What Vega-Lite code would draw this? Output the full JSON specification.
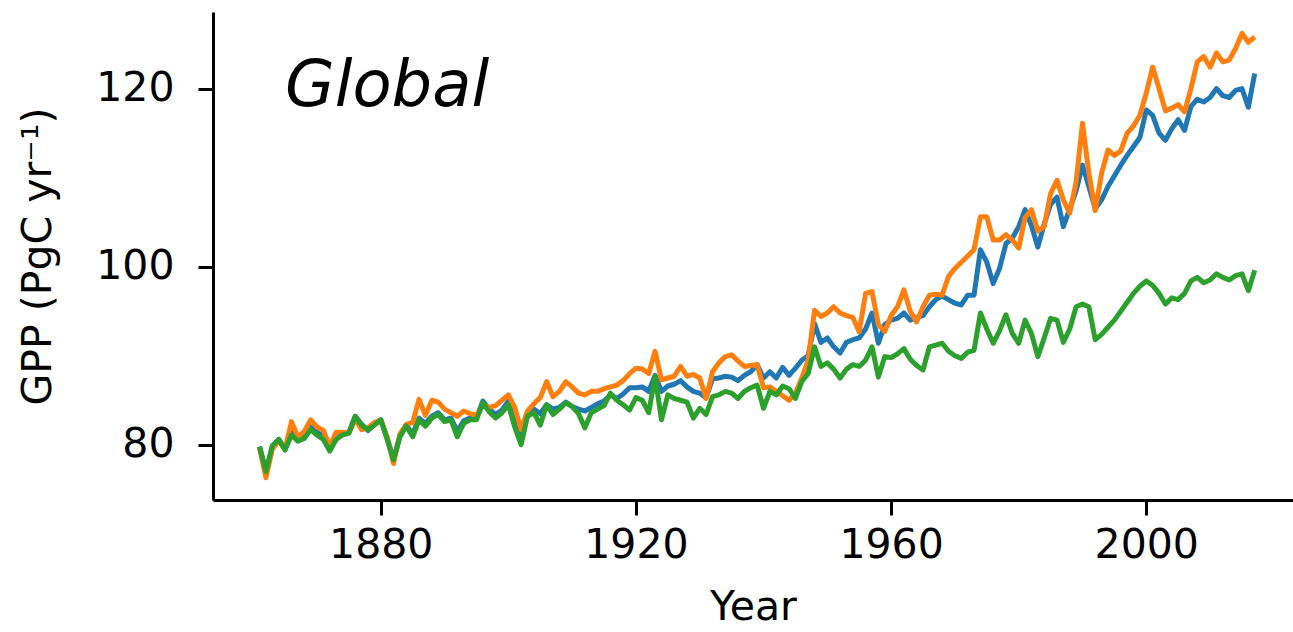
{
  "$schema": "https://vega.github.io/schema/vega-lite/v6.json",
  "width": 1080,
  "height": 488,
  "autosize": {"type": "none"},
  "padding": {"left": 213, "top": 12, "right": 0, "bottom": 132},
  "config": {
    "view": {"stroke": null},
    "font": "DejaVu Sans",
    "axis": {
      "grid": false,
      "domainColor": "#000000",
      "domainWidth": 3,
      "tickColor": "#000000",
      "tickWidth": 3,
      "tickSize": 15,
      "labelColor": "#000000",
      "titleColor": "#000000",
      "labelFont": "DejaVu Sans",
      "titleFont": "DejaVu Sans",
      "labelFontSize": 41,
      "titleFontSize": 41,
      "titleFontWeight": "normal"
    }
  },
  "layer": [
    {
      "data": {
        "values": [
          {"year":1861,"a":79.8,"b":79.6,"c":79.8},
          {"year":1862,"a":77.0,"b":76.3,"c":77.0},
          {"year":1863,"a":79.8,"b":79.5,"c":79.9},
          {"year":1864,"a":80.6,"b":80.5,"c":80.6},
          {"year":1865,"a":79.6,"b":79.5,"c":79.4},
          {"year":1866,"a":81.5,"b":82.6,"c":81.1},
          {"year":1867,"a":80.6,"b":80.9,"c":80.4},
          {"year":1868,"a":81.0,"b":81.5,"c":80.7},
          {"year":1869,"a":82.0,"b":82.8,"c":81.7},
          {"year":1870,"a":81.4,"b":82.0,"c":81.1},
          {"year":1871,"a":81.0,"b":81.6,"c":80.6},
          {"year":1872,"a":79.5,"b":79.8,"c":79.3},
          {"year":1873,"a":80.8,"b":81.4,"c":80.6},
          {"year":1874,"a":81.2,"b":81.4,"c":81.1},
          {"year":1875,"a":81.4,"b":81.3,"c":81.3},
          {"year":1876,"a":83.2,"b":82.9,"c":83.2},
          {"year":1877,"a":82.3,"b":81.7,"c":82.2},
          {"year":1878,"a":81.6,"b":81.9,"c":81.7},
          {"year":1879,"a":82.3,"b":82.5,"c":82.2},
          {"year":1880,"a":82.8,"b":82.8,"c":82.8},
          {"year":1881,"a":80.8,"b":80.8,"c":80.6},
          {"year":1882,"a":78.3,"b":77.9,"c":78.3},
          {"year":1883,"a":81.0,"b":81.2,"c":80.9},
          {"year":1884,"a":82.2,"b":82.3,"c":82.1},
          {"year":1885,"a":81.2,"b":82.5,"c":80.9},
          {"year":1886,"a":83.0,"b":85.1,"c":82.8},
          {"year":1887,"a":82.4,"b":83.3,"c":82.1},
          {"year":1888,"a":83.2,"b":85.0,"c":83.0},
          {"year":1889,"a":83.6,"b":84.8,"c":83.4},
          {"year":1890,"a":82.8,"b":84.0,"c":82.6},
          {"year":1891,"a":83.0,"b":83.6,"c":82.8},
          {"year":1892,"a":81.5,"b":83.2,"c":80.9},
          {"year":1893,"a":82.7,"b":83.8,"c":82.4},
          {"year":1894,"a":83.0,"b":83.5,"c":82.8},
          {"year":1895,"a":83.0,"b":83.3,"c":82.8},
          {"year":1896,"a":84.9,"b":84.5,"c":84.7},
          {"year":1897,"a":84.0,"b":84.2,"c":83.7},
          {"year":1898,"a":83.4,"b":84.4,"c":83.0},
          {"year":1899,"a":83.9,"b":85.0,"c":83.6},
          {"year":1900,"a":84.9,"b":85.6,"c":84.5},
          {"year":1901,"a":83.0,"b":84.2,"c":82.0},
          {"year":1902,"a":81.0,"b":81.7,"c":80.0},
          {"year":1903,"a":83.3,"b":83.8,"c":83.2},
          {"year":1904,"a":84.0,"b":84.6,"c":83.6},
          {"year":1905,"a":83.5,"b":85.3,"c":82.2},
          {"year":1906,"a":84.5,"b":87.1,"c":84.5},
          {"year":1907,"a":84.0,"b":85.4,"c":83.4},
          {"year":1908,"a":84.2,"b":86.0,"c":84.0},
          {"year":1909,"a":84.8,"b":87.1,"c":84.7},
          {"year":1910,"a":84.3,"b":86.5,"c":84.3},
          {"year":1911,"a":84.0,"b":85.8,"c":83.5},
          {"year":1912,"a":83.8,"b":85.6,"c":81.9},
          {"year":1913,"a":84.2,"b":86.0,"c":83.6},
          {"year":1914,"a":84.6,"b":86.0,"c":84.0},
          {"year":1915,"a":84.9,"b":86.3,"c":84.4},
          {"year":1916,"a":85.6,"b":86.5,"c":85.8},
          {"year":1917,"a":85.2,"b":86.7,"c":85.0},
          {"year":1918,"a":85.7,"b":87.2,"c":84.5},
          {"year":1919,"a":86.4,"b":88.0,"c":83.9},
          {"year":1920,"a":86.4,"b":88.6,"c":85.3},
          {"year":1921,"a":86.5,"b":88.5,"c":85.0},
          {"year":1922,"a":86.0,"b":88.0,"c":83.6},
          {"year":1923,"a":87.8,"b":90.5,"c":87.7},
          {"year":1924,"a":86.0,"b":87.3,"c":82.8},
          {"year":1925,"a":86.6,"b":87.5,"c":85.6},
          {"year":1926,"a":86.8,"b":87.7,"c":85.2},
          {"year":1927,"a":87.2,"b":88.8,"c":85.0},
          {"year":1928,"a":86.5,"b":87.7,"c":84.8},
          {"year":1929,"a":86.0,"b":87.9,"c":83.0},
          {"year":1930,"a":85.8,"b":87.5,"c":84.1},
          {"year":1931,"a":85.3,"b":85.2,"c":83.4},
          {"year":1932,"a":87.4,"b":88.2,"c":85.4},
          {"year":1933,"a":87.5,"b":89.2,"c":85.6},
          {"year":1934,"a":87.7,"b":89.9,"c":86.0},
          {"year":1935,"a":87.6,"b":90.1,"c":85.8},
          {"year":1936,"a":87.2,"b":89.4,"c":85.2},
          {"year":1937,"a":87.8,"b":88.8,"c":86.0},
          {"year":1938,"a":88.2,"b":88.9,"c":86.4},
          {"year":1939,"a":89.0,"b":89.0,"c":86.7},
          {"year":1940,"a":87.5,"b":86.4,"c":84.1},
          {"year":1941,"a":88.2,"b":86.5,"c":86.0},
          {"year":1942,"a":87.5,"b":86.0,"c":85.6},
          {"year":1943,"a":88.7,"b":85.5,"c":86.6},
          {"year":1944,"a":87.8,"b":85.0,"c":86.3},
          {"year":1945,"a":88.6,"b":85.8,"c":85.2},
          {"year":1946,"a":89.5,"b":87.5,"c":87.1},
          {"year":1947,"a":90.0,"b":89.5,"c":88.0},
          {"year":1948,"a":93.6,"b":95.1,"c":91.0},
          {"year":1949,"a":91.5,"b":94.4,"c":88.8},
          {"year":1950,"a":92.0,"b":94.8,"c":89.2},
          {"year":1951,"a":91.0,"b":95.5,"c":88.5},
          {"year":1952,"a":90.3,"b":94.8,"c":87.5},
          {"year":1953,"a":91.5,"b":94.5,"c":88.5},
          {"year":1954,"a":91.8,"b":94.3,"c":89.0},
          {"year":1955,"a":92.0,"b":92.7,"c":88.8},
          {"year":1956,"a":93.0,"b":97.0,"c":89.5},
          {"year":1957,"a":94.8,"b":97.2,"c":91.0},
          {"year":1958,"a":91.4,"b":93.5,"c":87.6},
          {"year":1959,"a":93.5,"b":92.7,"c":89.9},
          {"year":1960,"a":94.0,"b":94.5,"c":89.8},
          {"year":1961,"a":94.2,"b":95.5,"c":90.2},
          {"year":1962,"a":94.8,"b":97.4,"c":90.8},
          {"year":1963,"a":94.0,"b":95.0,"c":89.6},
          {"year":1964,"a":94.3,"b":93.8,"c":88.9},
          {"year":1965,"a":94.5,"b":95.5,"c":88.4},
          {"year":1966,"a":95.5,"b":96.8,"c":91.0},
          {"year":1967,"a":96.3,"b":96.9,"c":91.2},
          {"year":1968,"a":96.7,"b":96.8,"c":91.4},
          {"year":1969,"a":96.3,"b":98.9,"c":90.5},
          {"year":1970,"a":95.9,"b":99.8,"c":90.0},
          {"year":1971,"a":95.7,"b":100.5,"c":89.7},
          {"year":1972,"a":96.8,"b":101.2,"c":90.4},
          {"year":1973,"a":96.8,"b":101.9,"c":90.6},
          {"year":1974,"a":101.9,"b":105.6,"c":94.8},
          {"year":1975,"a":100.5,"b":105.6,"c":93.0},
          {"year":1976,"a":98.1,"b":103.0,"c":91.4},
          {"year":1977,"a":99.8,"b":103.0,"c":92.8},
          {"year":1978,"a":102.6,"b":103.6,"c":94.6},
          {"year":1979,"a":103.2,"b":103.0,"c":92.5},
          {"year":1980,"a":104.5,"b":102.1,"c":91.4},
          {"year":1981,"a":106.4,"b":105.5,"c":94.0},
          {"year":1982,"a":104.6,"b":106.4,"c":92.5},
          {"year":1983,"a":102.2,"b":104.0,"c":89.9},
          {"year":1984,"a":104.8,"b":104.5,"c":92.0},
          {"year":1985,"a":107.0,"b":108.2,"c":94.2},
          {"year":1986,"a":107.8,"b":109.7,"c":94.0},
          {"year":1987,"a":104.5,"b":107.5,"c":91.5},
          {"year":1988,"a":106.5,"b":106.0,"c":93.0},
          {"year":1989,"a":108.5,"b":109.5,"c":95.5},
          {"year":1990,"a":111.4,"b":116.1,"c":95.8},
          {"year":1991,"a":109.0,"b":110.5,"c":95.5},
          {"year":1992,"a":106.5,"b":106.3,"c":91.8},
          {"year":1993,"a":107.5,"b":110.5,"c":92.4},
          {"year":1994,"a":109.0,"b":113.1,"c":93.2},
          {"year":1995,"a":110.2,"b":112.5,"c":94.0},
          {"year":1996,"a":111.4,"b":113.0,"c":95.0},
          {"year":1997,"a":112.5,"b":115.0,"c":96.0},
          {"year":1998,"a":113.5,"b":115.8,"c":97.0},
          {"year":1999,"a":114.5,"b":117.0,"c":97.8},
          {"year":2000,"a":117.6,"b":119.5,"c":98.4},
          {"year":2001,"a":117.0,"b":122.4,"c":97.9},
          {"year":2002,"a":115.0,"b":120.0,"c":97.0},
          {"year":2003,"a":114.2,"b":117.5,"c":95.8},
          {"year":2004,"a":115.5,"b":117.8,"c":96.5},
          {"year":2005,"a":116.5,"b":118.2,"c":96.3},
          {"year":2006,"a":115.3,"b":117.4,"c":97.0},
          {"year":2007,"a":118.0,"b":120.0,"c":98.4},
          {"year":2008,"a":118.8,"b":123.0,"c":98.8},
          {"year":2009,"a":118.5,"b":123.6,"c":98.2},
          {"year":2010,"a":119.0,"b":122.4,"c":98.5},
          {"year":2011,"a":120.0,"b":124.0,"c":99.2},
          {"year":2012,"a":119.2,"b":123.0,"c":98.8},
          {"year":2013,"a":119.0,"b":123.2,"c":98.5},
          {"year":2014,"a":119.8,"b":124.5,"c":99.0},
          {"year":2015,"a":120.0,"b":126.2,"c":99.2},
          {"year":2016,"a":117.9,"b":125.2,"c":97.3},
          {"year":2017,"a":121.7,"b":125.8,"c":99.6}
        ]
      },
      "transform": [{"fold": ["a", "b", "c"], "as": ["series", "gpp"]}],
      "mark": {"type": "line", "strokeWidth": 5, "strokeJoin": "round", "clip": true},
      "encoding": {
        "x": {
          "field": "year",
          "type": "quantitative",
          "scale": {"domain": [1853.7, 2023.0], "nice": false, "zero": false},
          "axis": {"values": [1880, 1920, 1960, 2000], "format": "d", "labelPadding": 10, "title": "Year", "titlePadding": 22}
        },
        "y": {
          "field": "gpp",
          "type": "quantitative",
          "scale": {"domain": [73.8, 128.6], "nice": false, "zero": false},
          "axis": {"values": [80, 100, 120], "labelPadding": 24, "title": "GPP (PgC yr⁻¹)", "titlePadding": 36}
        },
        "color": {
          "field": "series",
          "type": "nominal",
          "scale": {"domain": ["a", "b", "c"], "range": ["#1f77b4", "#ff7f0e", "#2ca02c"]},
          "legend": null
        }
      }
    },
    {
      "data": {"values": [{"label": "Global"}]},
      "mark": {"type": "text", "font": "DejaVu Sans", "fontStyle": "italic", "fontSize": 64, "align": "left", "baseline": "alphabetic", "color": "#000000"},
      "encoding": {
        "x": {"datum": 1865.0},
        "y": {"datum": 118.0},
        "text": {"field": "label"}
      }
    },
    {
      "mark": {"type": "rule", "color": "#000000", "strokeWidth": 3},
      "encoding": {"y": {"datum": 128.6}}
    }
  ]
}
